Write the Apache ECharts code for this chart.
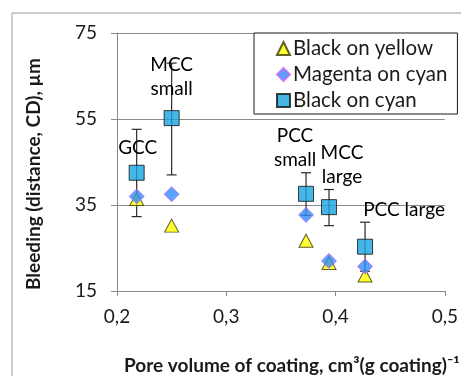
<!DOCTYPE html>
<html>
<head>
<meta charset="utf-8">
<script src="https://cdn.jsdelivr.net/npm/echarts@6/dist/echarts.min.js"></script>
<style>
  html, body { margin: 0; padding: 0; background: #ffffff; }
  #chart { width: 461px; height: 376px; }
</style>
</head>
<body>
<div id="chart"></div>
<script>
// Pore volume of each coating pigment, cm3/(g coating)
const poreVolume = [0.218, 0.25, 0.373, 0.394, 0.427];
const pigmentNames = ['GCC', 'MCC\nsmall', 'PCC\nsmall', 'MCC\nlarge', 'PCC large'];

// Bleeding distance (CD), µm
const blackOnYellow = [36.4, 30.2, 26.7, 21.5, 18.6];
const magentaOnCyan = [37.0, 37.5, 32.7, 22.0, 20.7];
const blackOnCyan = [42.5, 55.2, 37.6, 34.5, 25.3];
const blackOnCyanErrLow = [32.3, 42.0, 32.6, 30.2, 19.6];
const blackOnCyanErrHigh = [52.6, 68.0, 42.5, 38.6, 31.0];

const yTicks = [15, 35, 55, 75];
const xTicks = [0.2, 0.3, 0.4, 0.5];
const seriesNames = ['Black on yellow', 'Magenta on cyan', 'Black on cyan'];

const FONT = 'Lato';
const FS = 19;

// Shift of each pigment name from the top edge of its square marker
const nameShift = [[1, -12], [0, -28.5], [-11, -33], [13, -29.5], [39, -23.5]];

const pairs = (ys) => poreVolume.map((x, i) => [x, ys[i]]);

const chart = echarts.init(document.getElementById('chart'), null, { renderer: 'canvas' });

const errorData = poreVolume.map((x, i) => [x, blackOnCyanErrLow[i], blackOnCyanErrHigh[i]]);

const squareData = poreVolume.map((x, i) => ({
  value: [x, blackOnCyan[i]],
  name: pigmentNames[i]
}));

const option = {
  animation: false,
  backgroundColor: '#ffffff',
  textStyle: { fontFamily: FONT },
  grid: { left: 117, right: 16, top: 33, bottom: 85, containLabel: false },
  xAxis: {
    type: 'value',
    min: xTicks[0],
    max: xTicks[xTicks.length - 1],
    interval: 0.1,
    axisLine: { show: true, lineStyle: { color: '#8a8a8a', width: 1 } },
    axisTick: { show: true, inside: false, length: 5, lineStyle: { color: '#8a8a8a' } },
    splitLine: { show: false },
    axisLabel: {
      margin: 16,
      color: '#1a1a1a',
      fontFamily: FONT,
      fontSize: FS,
      formatter: (v) => v.toFixed(1).replace('.', ',')
    }
  },
  yAxis: {
    type: 'value',
    min: yTicks[0],
    max: yTicks[yTicks.length - 1],
    interval: 20,
    axisLine: { show: true, lineStyle: { color: '#8a8a8a', width: 1 } },
    axisTick: { show: true, inside: false, length: 6, lineStyle: { color: '#8a8a8a' } },
    splitLine: { show: true, lineStyle: { color: '#8a8a8a', width: 1 } },
    axisLabel: {
      margin: 20,
      color: '#1a1a1a',
      fontFamily: FONT,
      fontSize: FS
    }
  },
  legend: {
    orient: 'vertical',
    left: 254,
    top: 33,
    padding: [5, 10, 3, 22],
    itemGap: 5,
    itemWidth: 13,
    itemHeight: 13,
    backgroundColor: '#ffffff',
    borderColor: '#1a1a1a',
    borderWidth: 1,
    borderRadius: 0,
    textStyle: { fontFamily: FONT, fontSize: 20.5, color: '#1a1a1a', lineHeight: 20, padding: [0, 0, 0, -2] },
    data: seriesNames
  },
  series: [
    {
      type: 'custom',
      name: 'errors',
      z: 1,
      silent: true,
      data: errorData,
      renderItem: (params, api) => {
        const x = api.value(0);
        const lo = api.coord([x, api.value(1)]);
        const hi = api.coord([x, api.value(2)]);
        const cap = 5;
        const style = { stroke: '#2a2a2a', lineWidth: 1.2 };
        return {
          type: 'group',
          children: [
            { type: 'line', shape: { x1: lo[0], y1: lo[1], x2: hi[0], y2: hi[1] }, style },
            { type: 'line', shape: { x1: hi[0] - cap, y1: hi[1], x2: hi[0] + cap, y2: hi[1] }, style },
            { type: 'line', shape: { x1: lo[0] - cap, y1: lo[1], x2: lo[0] + cap, y2: lo[1] }, style }
          ]
        };
      }
    },
    {
      name: seriesNames[0],
      type: 'scatter',
      z: 2,
      symbol: 'triangle',
      symbolSize: [14, 13],
      itemStyle: { color: '#ffff00', borderColor: '#3a3a00', borderWidth: 1 },
      data: pairs(blackOnYellow)
    },
    {
      name: seriesNames[1],
      type: 'scatter',
      z: 3,
      symbol: 'diamond',
      symbolSize: [15, 15],
      itemStyle: { color: '#2f8cf8', borderColor: '#c865f5', borderWidth: 1 },
      data: pairs(magentaOnCyan)
    },
    {
      name: seriesNames[2],
      type: 'scatter',
      z: 4,
      symbol: 'rect',
      symbolSize: 15,
      itemStyle: { color: '#17a4e0', borderColor: '#111111', borderWidth: 1 },
      label: {
        show: true,
        position: 'top',
        distance: 5,
        align: 'center',
        verticalAlign: 'middle',
        formatter: (p) => p.name,
        color: '#000000',
        opacity: 1,
        fontFamily: FONT,
        fontSize: FS,
        lineHeight: 23.5
      },
      labelLayout: (p) => ({
        dx: nameShift[p.dataIndex][0],
        dy: nameShift[p.dataIndex][1],
        hideOverlap: false
      }),
      data: squareData
    }
  ],
  graphic: [
    {
      type: 'rect',
      z: -10,
      shape: { x: 12, y: 13, width: 470, height: 400 },
      style: { fill: 'none', stroke: '#9a9a9a', lineWidth: 1 }
    },
    {
      type: 'text',
      x: 34,
      y: 174,
      rotation: Math.PI / 2,
      style: {
        text: 'Bleeding (distance, CD), µm',
        fontFamily: FONT,
        fontSize: FS,
        fontWeight: 'bold',
        fill: '#1a1a1a',
        align: 'center',
        verticalAlign: 'middle'
      }
    },
    {
      type: 'text',
      x: 124,
      y: 366,
      style: {
        text: 'Pore volume of coating, cm³(g coating)⁻¹',
        fontFamily: FONT,
        fontSize: FS,
        fontWeight: 'bold',
        fill: '#1a1a1a',
        align: 'left',
        verticalAlign: 'middle'
      }
    }
  ]
};

chart.setOption(option);
</script>
</body>
</html>
